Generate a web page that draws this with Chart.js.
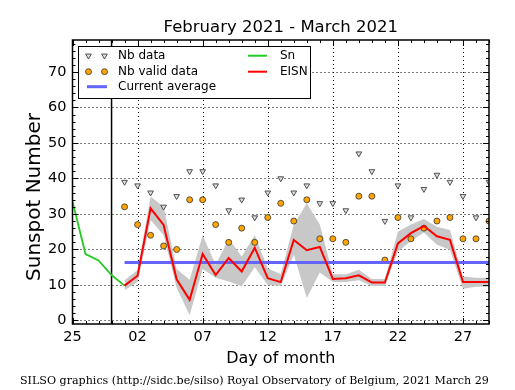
<!DOCTYPE html>
<html>
<head>
<meta charset="utf-8">
<script src="https://cdn.jsdelivr.net/npm/chart.js@4.4.0/dist/chart.umd.min.js"></script>
<style>
  html, body { margin: 0; padding: 0; background: #fff; }
</style>
</head>
<body>
<canvas id="myChart" width="515" height="390"></canvas>
<script>
// days shown on the x axis, Feb 25 .. Mar 29
const dayLabels = ['25', '26', '27', '28', '01', '02', '03', '04', '05', '06', '07', '08', '09', '10', '11', '12', '13', '14',
    '15', '16', '17', '18', '19', '20', '21', '22', '23', '24', '25', '26', '27', '28', '29'];
const xMajor = [0, 5, 10, 15, 20, 25, 30];
const yTicks = [0, 10, 20, 30, 40, 50, 60, 70];

// Sn, Feb 25 .. Mar 1
const snValues = [33.5, 18.7, 16.9, 12.8, 9.8];

// daily values, Mar 1 .. Mar 29
const firstDay = 4;
const eisnValues = [9.8, 12.6, 31.6, 26.9, 11.6, 5.8, 18.7, 12.8, 17.6, 13.8, 20.5, 11.9, 10.8, 22.7, 19.8,
    20.7, 11.7, 11.9, 12.7, 10.7, 10.7, 21.7, 24.6, 26.6, 23.7, 22.7, 10.8, 10.8, 10.8];
const eisnUpper = [11.3, 14.2, 34.9, 32.0, 14.5, 11.5, 24.0, 15.6, 23.0, 18.0, 24.0, 14.7, 13.0, 27.0, 33.0,
    27.0, 13.0, 13.0, 14.3, 11.7, 11.7, 25.0, 27.0, 28.6, 26.4, 25.5, 12.4, 12.0, 12.0];
const eisnLower = [8.5, 10.8, 28.3, 24.0, 9.2, 1.5, 14.5, 12.0, 11.0, 9.6, 15.0, 10.0, 9.8, 18.5, 6.3,
    13.5, 10.8, 10.8, 11.3, 9.7, 9.7, 19.4, 22.4, 24.8, 21.3, 19.9, 8.9, 9.5, 9.5];
const nbData = [39, 38, 36, 32, 35, 42, 42, 38, 31, 34, 29, 36, 40, 36, 38, 33, 33, 31, 47, 42, 28, 38, 29, 37, 41, 39, 35, 29, 39];
const nbValid = [32, 27, 24, 21, 20, 34, 34, 27, 22, 26, 22, 29, 33, 28, 34, 23, 23, 22, 35, 35, 17, 29, 23, 26, 28, 29, 23, 23, 28];
const currentAverage = 16.3;

const monthEnd = dayLabels.indexOf('01') - 1;

function pts(values, start) {
    return values.map((v, i) => ({ x: start + i, y: v }));
}

const triStyle = { fill: '#dddddd', edge: '#505050' };
const dotStyle = { fill: '#ffa500', edge: '#333333' };
const FONT = '"DejaVu Sans", sans-serif';

function line(ctx, x1, y1, x2, y2) {
    ctx.beginPath();
    ctx.moveTo(x1, y1);
    ctx.lineTo(x2, y2);
    ctx.stroke();
}

// grid, frame, inward ticks, legend and texts
const silsoDecor = {
    id: 'silsoDecor',
    beforeDatasetsDraw(chart) {
        const { ctx, chartArea: a, scales: { x, y } } = chart;
        ctx.save();
        ctx.strokeStyle = '#000';
        ctx.lineWidth = 1;
        ctx.setLineDash([1, 3]);
        yTicks.forEach(v => {
            const py = Math.round(y.getPixelForValue(v)) + 0.5;
            line(ctx, a.left, py, a.right, py);
        });
        xMajor.forEach(v => {
            if (v === 0) return;
            const px = Math.round(x.getPixelForValue(v)) + 0.5;
            line(ctx, px, a.top, px, a.bottom);
        });
        ctx.setLineDash([]);
        ctx.lineWidth = 1.5;
        const mx = x.getPixelForValue(monthEnd);
        line(ctx, mx, a.top, mx, a.bottom);
        ctx.restore();
    },
    afterDraw(chart) {
        const { ctx, chartArea: a, scales: { x, y } } = chart;
        ctx.save();
        ctx.strokeStyle = '#000';
        ctx.lineWidth = 1;
        // inward ticks on all four sides
        for (let d = 0; d <= 32; d++) {
            const px = Math.round(x.getPixelForValue(d)) + 0.5;
            const len = xMajor.includes(d) ? 6 : 3;
            line(ctx, px, a.bottom, px, a.bottom - len);
            line(ctx, px, a.top, px, a.top + len);
        }
        for (let v = 0; v <= 78; v += 2) {
            const py = Math.round(y.getPixelForValue(v)) + 0.5;
            const len = v % 10 === 0 ? 6 : 3;
            line(ctx, a.left, py, a.left + len, py);
            line(ctx, a.right, py, a.right - len, py);
        }
        ctx.lineWidth = 1.5;
        ctx.strokeRect(a.left, a.top, a.right - a.left, a.bottom - a.top);

        // legend
        ctx.lineWidth = 1;
        ctx.fillStyle = '#fff';
        ctx.fillRect(78.5, 46.5, 232, 52);
        ctx.strokeRect(78.5, 46.5, 232, 52);
        const rows = [55.7, 71.7, 86.7];
        ctx.font = '12px ' + FONT;
        ctx.fillStyle = '#000';
        ctx.textBaseline = 'middle';
        ctx.fillText('Nb data', 118, rows[0]);
        ctx.fillText('Nb valid data', 118, rows[1]);
        ctx.fillText('Current average', 118, rows[2]);
        ctx.fillText('Sn', 280, rows[0]);
        ctx.fillText('EISN', 280, rows[1]);
        [88.5, 104.5].forEach(cx => {
            ctx.fillStyle = triStyle.fill; ctx.strokeStyle = triStyle.edge; ctx.lineWidth = 1;
            ctx.beginPath();
            const r = 3.3;
            ctx.moveTo(cx - r * 0.866, rows[0] - r * 0.5);
            ctx.lineTo(cx + r * 0.866, rows[0] - r * 0.5);
            ctx.lineTo(cx, rows[0] + r);
            ctx.closePath(); ctx.fill(); ctx.stroke();
            ctx.fillStyle = dotStyle.fill; ctx.strokeStyle = dotStyle.edge; ctx.lineWidth = 0.8;
            ctx.beginPath(); ctx.arc(cx, rows[1], 3, 0, Math.PI * 2); ctx.fill(); ctx.stroke();
        });
        ctx.lineWidth = 3; ctx.strokeStyle = '#6464ff';
        line(ctx, 87, rows[2], 107, rows[2]);
        ctx.lineWidth = 2; ctx.strokeStyle = '#22cc22';
        line(ctx, 248, rows[0], 267, rows[0]);
        ctx.strokeStyle = '#ff0000';
        line(ctx, 248, rows[1], 267, rows[1]);

        // titles
        ctx.fillStyle = '#000';
        ctx.textAlign = 'center';
        ctx.textBaseline = 'alphabetic';
        const cx = (a.left + a.right) / 2;
        ctx.font = '16.5px ' + FONT;
        ctx.fillText('February 2021 - March 2021', cx, 31.5);
        ctx.font = '16px ' + FONT;
        ctx.fillText('Day of month', cx, 363);
        ctx.save();
        ctx.translate(40, 197);
        ctx.rotate(-Math.PI / 2);
        ctx.font = '20px ' + FONT;
        ctx.fillText('Sunspot Number', 0, 0);
        ctx.restore();
        ctx.textAlign = 'left';
        ctx.font = '11.1px "DejaVu Serif", serif';
        ctx.fillText('SILSO graphics (http://sidc.be/silso) Royal Observatory of Belgium, 2021 March 29', 20, 384);
        ctx.restore();
    }
};

const ctx = document.getElementById('myChart').getContext('2d');
const avgPoints = [{ x: firstDay, y: currentAverage }, { x: 32, y: currentAverage }];

new Chart(ctx, {
    type: 'line',
    data: {
        datasets: [
            { label: 'lower', data: pts(eisnLower, firstDay), borderWidth: 0, pointRadius: 0, fill: false, order: 10 },
            { label: 'band', data: pts(eisnUpper, firstDay), borderWidth: 0, pointRadius: 0, fill: '-1',
              backgroundColor: '#c8c8c8', order: 9 },
            { label: 'Nb data', data: pts(nbData, firstDay), showLine: false, pointStyle: 'triangle', pointRotation: 180,
              pointRadius: 3.3, pointBackgroundColor: triStyle.fill, pointBorderColor: triStyle.edge, pointBorderWidth: 1, order: 6 },
            { label: 'Nb valid data', data: pts(nbValid, firstDay), showLine: false, pointStyle: 'circle',
              pointRadius: 3, pointBackgroundColor: dotStyle.fill, pointBorderColor: dotStyle.edge, pointBorderWidth: 0.8, order: 5 },
            { label: 'Current average', data: avgPoints, borderColor: '#6464ff', borderWidth: 3, pointRadius: 0, order: 4 },
            { label: 'Sn', data: pts(snValues, 0), borderColor: '#22cc22', borderWidth: 1.8, pointRadius: 0, order: 3 },
            { label: 'EISN', data: pts(eisnValues, firstDay), borderColor: '#ff0000', borderWidth: 2, pointRadius: 0, order: 2 }
        ]
    },
    options: {
        responsive: false,
        devicePixelRatio: 1,
        animation: false,
        elements: { line: { tension: 0 } },
        layout: { padding: { top: 40, right: 26, bottom: 0, left: 0 } },
        plugins: { legend: { display: false }, tooltip: { enabled: false }, title: { display: false } },
        scales: {
            x: {
                type: 'linear', min: 0, max: 32,
                grid: { display: false, drawTicks: false },
                border: { display: false },
                afterBuildTicks: scale => { scale.ticks = xMajor.map(v => ({ value: v })); },
                afterFit: scale => { scale.height = 66; },
                ticks: { color: '#000', font: { family: FONT, size: 14.5 }, padding: 5, maxRotation: 0, autoSkip: false,
                    callback: v => dayLabels[v] }
            },
            y: {
                min: -1, max: 79,
                grid: { display: false, drawTicks: false },
                border: { display: false },
                afterBuildTicks: scale => { scale.ticks = yTicks.map(v => ({ value: v })); },
                afterFit: scale => { scale.width = 72.5; },
                ticks: { color: '#000', font: { family: FONT, size: 14.5 }, padding: 6 }
            }
        }
    },
    plugins: [silsoDecor]
});
</script>
</body>
</html>
